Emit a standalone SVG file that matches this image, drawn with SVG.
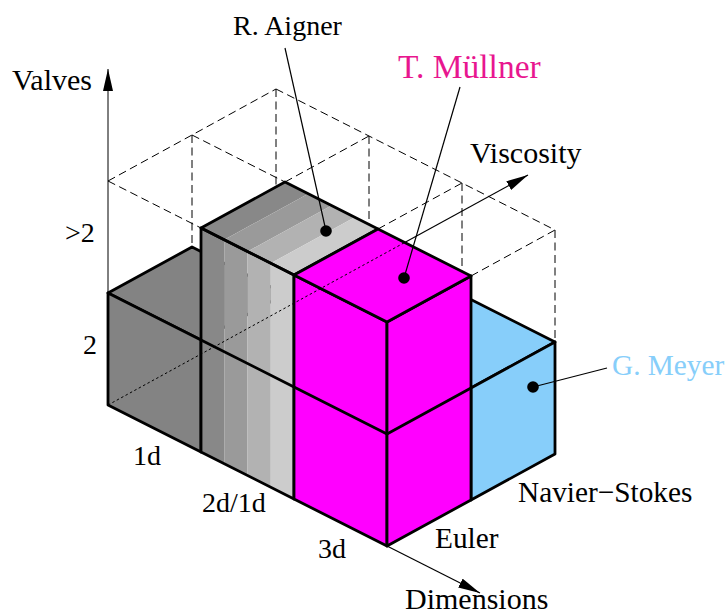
<svg xmlns="http://www.w3.org/2000/svg" width="727" height="616" viewBox="0 0 727 616">
<style>
.lbl{font-family:'Liberation Serif','DejaVu Serif',serif;font-size:28px;fill:#000}
.big{font-size:30px}
.mid{font-size:29.3px}
.dash{fill:none;stroke:#000;stroke-width:1;stroke-dasharray:8 4.5}
.edge{stroke:#000;stroke-width:2.8;stroke-linejoin:round;stroke-linecap:round}
.thin{fill:none;stroke:#000;stroke-width:1.2}
.dot{fill:#000}
</style>
<defs>
<marker id="arr" markerUnits="userSpaceOnUse" markerWidth="22" markerHeight="10" refX="22" refY="5" orient="auto" viewBox="0 0 22 10">
<path d="M0,0 L22,5 L0,10 Z" fill="#000"/>
</marker>
</defs>
<rect width="727" height="616" fill="#fff"/>
<g id="wireframe">
<path class="dash" d="M108,181 L276,89 M108,181 L201,228 M192,135 L285,182 M276,89 L555,230 M285,182 L369,136 M378,229 L462,183 M471,276 L555,230 M192,135 L192,247 M276,89 L276,201 M369,136 L369,248 M462,183 L462,295 M555,230 L555,342"/>
</g>
<g id="connectors">
<line x1="108" y1="293" x2="108" y2="69" stroke="#000" stroke-width="1" marker-end="url(#arr)"/>
</g>
<g id="block-1d">
<polygon points="108,293 201,340 285,294 192,247" fill="#838383" class="edge"/>
<polygon points="108,405 201,452 201,340 108,293" fill="#838383" class="edge"/>
</g>
<g id="block-2d1d">
<polygon points="201,452 224.25,463.75 224.25,239.75 201,228" fill="#888888"/>
<polygon points="224.25,463.75 247.5,475.5 247.5,251.5 224.25,239.75" fill="#9a9a9a"/>
<polygon points="247.5,475.5 270.75,487.25 270.75,263.25 247.5,251.5" fill="#b2b2b2"/>
<polygon points="270.75,487.25 294,499 294,275 270.75,263.25" fill="#cccccc"/>
<polygon points="201,228 224.25,239.75 308.25,193.75 285,182" fill="#888888"/>
<polygon points="224.25,239.75 247.5,251.5 331.5,205.5 308.25,193.75" fill="#9a9a9a"/>
<polygon points="247.5,251.5 270.75,263.25 354.75,217.25 331.5,205.5" fill="#b2b2b2"/>
<polygon points="270.75,263.25 294,275 378,229 354.75,217.25" fill="#cccccc"/>
<polygon points="201,452 294,499 294,275 201,228" fill="none" class="edge"/>
<polygon points="201,228 294,275 378,229 285,182" fill="none" class="edge"/>
<line x1="201" y1="340" x2="294" y2="387" class="edge"/>
</g>
<g id="block-navier-stokes">
<polygon points="471,388 555,342 462,295 378,341" fill="#87cefa" class="edge"/>
<polygon points="471,500 555,454 555,342 471,388" fill="#87cefa" class="edge"/>
</g>
<g id="block-euler">
<polygon points="294,499 387,546 387,322 294,275" fill="#ff00ff" class="edge"/>
<polygon points="387,546 471,500 471,276 387,322" fill="#ff00ff" class="edge"/>
<polygon points="294,275 387,322 471,276 378,229" fill="#ff00ff" class="edge"/>
<polyline points="294,387 387,434 471,388" fill="none" class="edge"/>
</g>
<g id="axes">
<line x1="108" y1="405" x2="404.7" y2="242.5" stroke="#000" stroke-width="1" stroke-dasharray="2.5 2.5"/>
<line x1="404.7" y1="242.5" x2="528" y2="175" stroke="#000" stroke-width="1.2" marker-end="url(#arr)"/>
<line x1="387" y1="546" x2="480" y2="593" stroke="#000" stroke-width="1.2" marker-end="url(#arr)"/>
</g>
<g id="leaders">
<line x1="285" y1="48" x2="326" y2="231" class="thin"/>
<circle cx="326" cy="231" r="5.8" class="dot"/>
<line x1="460" y1="87" x2="404" y2="278" class="thin"/>
<circle cx="404" cy="278" r="5.8" class="dot"/>
<line x1="607" y1="368" x2="533" y2="387" class="thin"/>
<circle cx="533" cy="387" r="5.8" class="dot"/>
</g>
<g id="labels" font-family="Liberation Serif, DejaVu Serif, serif">
<text class="lbl big" x="12" y="90">Valves</text>
<text class="lbl" x="65" y="242">&gt;2</text>
<text class="lbl" x="83" y="354">2</text>
<text class="lbl" x="133" y="465">1d</text>
<text class="lbl" x="202" y="512">2d/1d</text>
<text class="lbl" x="318" y="558">3d</text>
<text class="lbl mid" x="435" y="548">Euler</text>
<text class="lbl mid" x="518" y="502">Navier−Stokes</text>
<text class="lbl big" x="405" y="609">Dimensions</text>
<text class="lbl big" x="470" y="163">Viscosity</text>
<text class="lbl" x="233" y="35">R. Aigner</text>
<text class="lbl" x="398" y="78" style="font-size:33.5px;fill:#e8168f">T. Müllner</text>
<text class="lbl mid" x="612" y="375" style="fill:#87cefa">G. Meyer</text>
</g>
</svg>
